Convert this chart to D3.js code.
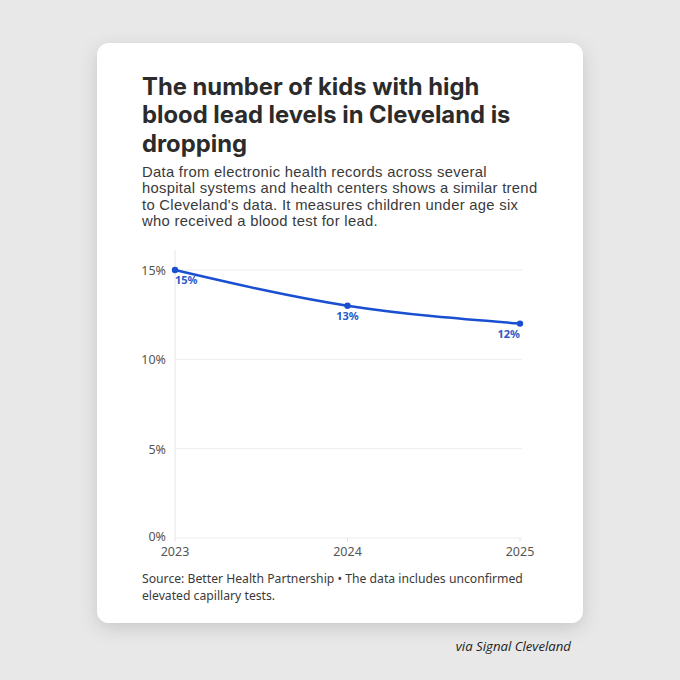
<!DOCTYPE html>
<html><head><meta charset="utf-8">
<script src="https://cdn.jsdelivr.net/npm/d3@7"></script>
<style>
html,body{margin:0;padding:0;background:#e8e8e8;}
svg{display:block;}
</style></head>
<body>
<svg id="c" width="680" height="680"></svg>
<script>
const years = ["2023", "2024", "2025"];
const values = [15, 13, 12];
const yTicks = [0, 5, 10, 15];
const titleLines = ["The number of kids with high", "blood lead levels in Cleveland is", "dropping"];
const subtitleLines = ["Data from electronic health records across several", "hospital systems and health centers shows a similar trend", "to Cleveland's data. It measures children under age six", "who received a blood test for lead."];
const sourceLines = ["Source: Better Health Partnership \u2022 The data includes unconfirmed", "elevated capillary tests."];
const credit = "via Signal Cleveland";

const svg = d3.select("#c");
const defs = svg.append("defs");
const f = defs.append("filter").attr("id","sh").attr("x","-20%").attr("y","-20%").attr("width","140%").attr("height","140%");
f.append("feDropShadow").attr("dx",0).attr("dy",5).attr("stdDeviation",9).attr("flood-color","#000").attr("flood-opacity",0.14);

svg.append("rect").attr("width",680).attr("height",680).attr("fill","#e8e8e8");
svg.append("rect").attr("x",97).attr("y",43).attr("width",486).attr("height",580).attr("rx",12).attr("fill","#ffffff").attr("filter","url(#sh)");

const tf = "'Inter','Roboto',sans-serif";
const bf = "'Noto Sans','Roboto',sans-serif";
const sf = "'Liberation Sans','Roboto',sans-serif";

svg.append("g").selectAll("text").data(titleLines).join("text")
  .attr("x",142).attr("y",(d,i)=>95+i*28.4)
  .attr("font-family",tf).attr("font-weight",700).attr("font-size",23.8).attr("fill","#2b2b2b")
  .text(d=>d);

svg.append("g").selectAll("text").data(subtitleLines).join("text")
  .attr("x",142).attr("y",(d,i)=>176.5+i*16.6)
  .attr("font-family",sf).attr("font-size",14.8).attr("letter-spacing",0.3).attr("fill","#3a3a3a")
  .text(d=>d);

const x = d3.scalePoint().domain(years).range([175,520]);
const y = d3.scaleLinear().domain([0,15]).range([538,270]);

const g = svg.append("g");
g.selectAll("line.grid").data(yTicks).join("line").attr("class","grid")
  .attr("x1",175).attr("x2",522).attr("y1",d=>y(d)).attr("y2",d=>y(d))
  .attr("stroke","#ececec").attr("stroke-width",1);
g.append("line").attr("x1",175).attr("x2",175).attr("y1",250).attr("y2",y(0))
  .attr("stroke","#e6e6e6").attr("stroke-width",1);
g.selectAll("line.xt").data(years).join("line").attr("class","xt")
  .attr("x1",d=>x(d)).attr("x2",d=>x(d)).attr("y1",y(0)).attr("y2",y(0)+4)
  .attr("stroke","#e6e6e6");

g.selectAll("text.yl").data(yTicks).join("text").attr("class","yl")
  .attr("x",166).attr("y",d=>y(d)+(d===0?3:5)).attr("text-anchor","end")
  .attr("font-family",bf).attr("font-size",12.5).attr("fill","#555")
  .text(d=>d+"%");

g.selectAll("text.xl").data(years).join("text").attr("class","xl")
  .attr("x",d=>x(d)).attr("y",y(0)+18).attr("text-anchor","middle")
  .attr("font-family",bf).attr("font-size",12.5).attr("fill","#555")
  .text(d=>d);

const data = years.map((yr,i)=>({yr,v:values[i]}));
const line = d3.line().x(d=>x(d.yr)).y(d=>y(d.v)).curve(d3.curveMonotoneX);
g.append("path").datum(data).attr("d",line).attr("fill","none")
  .attr("stroke","#1a4fd1").attr("stroke-width",2.5);
g.selectAll("circle").data(data).join("circle")
  .attr("cx",d=>x(d.yr)).attr("cy",d=>y(d.v)).attr("r",3.2).attr("fill","#1a4fd1");
g.selectAll("text.vl").data(data).join("text").attr("class","vl")
  .attr("x",d=>x(d.yr)).attr("y",d=>y(d.v)+14)
  .attr("text-anchor",(d,i)=>i===0?"start":(i===data.length-1?"end":"middle"))
  .attr("font-family",bf).attr("font-weight",700).attr("font-size",11).attr("fill","#2a5bc9")
  .text(d=>d.v+"%");

svg.append("g").selectAll("text").data(sourceLines).join("text")
  .attr("x",142).attr("y",(d,i)=>583+i*17)
  .attr("font-family",bf).attr("font-size",12.2).attr("fill","#3a3a3a")
  .text(d=>d);

svg.append("text").attr("x",571).attr("y",651).attr("text-anchor","end")
  .attr("font-family","'Open Sans',sans-serif").attr("font-style","italic").attr("font-size",13.2).attr("fill","#222")
  .text(credit);
</script>
</body></html>
